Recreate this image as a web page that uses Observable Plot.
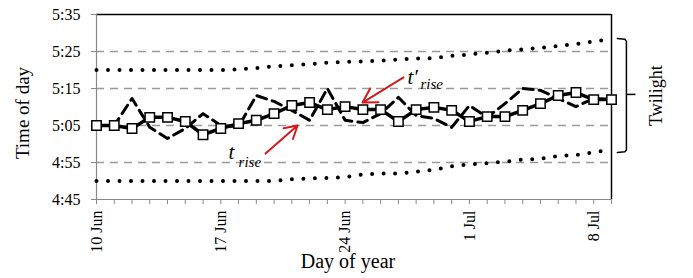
<!DOCTYPE html>
<html><head><meta charset="utf-8">
<script src="https://cdn.jsdelivr.net/npm/d3@7"></script>
<script src="https://cdn.jsdelivr.net/npm/@observablehq/plot@0.6"></script>
<style>body{margin:0;background:#fff}svg{display:block}</style>
</head><body><div id="chart"></div>
<script>
// Day of year (10 Jun = 161 ... 9 Jul = 190)
const dayOfYear = [161,162,163,164,165,166,167,168,169,170,171,172,173,174,175,176,177,178,179,180,181,182,183,184,185,186,187,188,189,190];
// Times in minutes after midnight
const tRisePrime = [305,305,304.2,307.2,307.2,306.1,302.5,304.2,305.5,306.4,308.2,310.4,311.2,309.3,310.1,309.3,309.3,306.1,309.3,309.9,309.1,306.1,307.4,307.4,309.1,310.9,313.1,313.9,312,312];
const tRise = [305,305,312.3,304.5,301.5,304.2,308.2,305,304.7,313.1,311.5,309.1,306.4,315,306.4,305.8,308.2,312.6,307.7,306.9,304.5,310.4,307.2,310.9,315,314.5,312.3,310.1,312.3,312];
const twilightLate = [320,320,320,320,320,320,320,320,320.2,320.5,321,321.3,321.6,322,322.2,322.3,322.5,322.8,323.1,323.2,323.8,324.2,324.7,325.2,325.6,326,326.5,327,327.7,328.3];
const twilightEarly = [290,290,290,290,290,290,290,290,290,290,290,290.5,290.7,290.8,291,291.8,292,292,292.5,293,294,294.5,294.8,295.2,295.8,296,296.8,297,297.8,298.5];

const xTickValues = [161,168,175,182,189];
const xTickLabels = ["10 Jun","17 Jun","24 Jun","1 Jul","8 Jul"];
const yTickValues = [285,295,305,315,325,335];
const yTickLabels = ["4:45","4:55","5:05","5:15","5:25","5:35"];
const gridValues = [295,305,315,325];

// annotations (data coordinates)
const arrows = [
  {x1:178.29, y1:318.0, x2:175.98, y2:311.2},
  {x1:170.52, y1:297.4, x2:172.32, y2:305.0}
];
const bigLabels = [{x:178.51, y:318.0, t:"t\u2032"},{x:168.43, y:297.7, t:"t"}];
const subLabels = [{x:179.24, y:316.2, t:"rise"},{x:169.0, y:295.1, t:"rise"}];
const bracket = [
  {x:190.33,y:328.5},{x:190.75,y:328.3},{x:190.84,y:327.8},
  {x:190.84,y:298.4},{x:190.75,y:297.9},{x:190.33,y:297.7}
];
const bracketTick = [{x1:190.84, x2:191.35, y:313.4}];

const rows = dayOfYear.map((d,i)=>({d, a:tRisePrime[i], b:tRise[i], lo:twilightEarly[i], hi:twilightLate[i]}));
const serif = "'Liberation Serif','Times New Roman',serif";

const chart = Plot.plot({
  width: 693, height: 278,
  marginLeft: 96, marginRight: 82, marginTop: 14, marginBottom: 79,
  style: {fontFamily: serif, fontSize: "16px", background: "white", color: "black"},
  x: {domain: [161,190]},
  y: {domain: [285,335]},
  marks: [
    Plot.ruleY(gridValues, {stroke:"#9a9a9a", strokeWidth:1.5, strokeDasharray:"8,6"}),
    Plot.ruleY([335], {stroke:"black", strokeWidth:1.5}),
    Plot.ruleX([190], {stroke:"black", strokeWidth:1.5}),
    Plot.ruleY([285], {stroke:"#888", strokeWidth:1.2}),
    Plot.ruleX([161], {stroke:"#888", strokeWidth:1.2}),
    Plot.axisY({ticks: yTickValues, tickFormat: (d)=>yTickLabels[yTickValues.indexOf(d)], tickSize:5, tickPadding:11, stroke:"#888", fill:"black", label:null, fontSize:16}),
    Plot.axisX({ticks: dayOfYear, tickFormat: (d)=>{const i=xTickValues.indexOf(d); return i>=0?xTickLabels[i]:"";}, tickSize:5, tickPadding:6, tickRotate:-90, stroke:"#888", fill:"black", label:null, fontSize:16}),
    Plot.line(rows, {x:"d", y:"hi", stroke:"black", strokeWidth:4, strokeDasharray:"0,11.5", strokeLinecap:"round"}),
    Plot.line(rows, {x:"d", y:"lo", stroke:"black", strokeWidth:4, strokeDasharray:"0,11.5", strokeLinecap:"round"}),
    Plot.line(rows, {x:"d", y:"b", stroke:"black", strokeWidth:3, strokeDasharray:"10,6"}),
    Plot.line(rows, {x:"d", y:"a", stroke:"black", strokeWidth:3.5}),
    Plot.dot(rows, {x:"d", y:"a", symbol:"square", r:5.3, fill:"white", stroke:"black", strokeWidth:1.5}),
    Plot.arrow(arrows, {x1:"x1", y1:"y1", x2:"x2", y2:"y2", bend:0, stroke:"#d01c1c", strokeWidth:2, headLength:18, headAngle:60}),
    Plot.text(bigLabels, {x:"x", y:"y", text:"t", textAnchor:"start", fontSize:21, fontStyle:"italic", fill:"black"}),
    Plot.text(subLabels, {x:"x", y:"y", text:"t", textAnchor:"start", fontSize:15, fontStyle:"italic", fill:"black"}),
    Plot.line(bracket, {x:"x", y:"y", stroke:"black", strokeWidth:1.5}),
    Plot.link(bracketTick, {x1:"x1", x2:"x2", y1:"y", y2:"y", stroke:"black", strokeWidth:1.5}),
    Plot.text(["Twilight"], {x:[192.53], y:[313.1], rotate:-90, fontSize:18, fill:"black"}),
    Plot.text(["Time of day"], {frameAnchor:"left", textAnchor:"middle", lineAnchor:"middle", dx:-74, dy:6, rotate:-90, fontSize:19, fill:"black"}),
    Plot.text(["Day of year"], {frameAnchor:"bottom", textAnchor:"middle", lineAnchor:"middle", dx:-6, dy:62, fontSize:20, fill:"black"})
  ]
});
d3.select(chart).selectAll("text").style("font-family", serif).style("font-variant", "normal");
document.getElementById("chart").appendChild(chart);
</script>
</body></html>
